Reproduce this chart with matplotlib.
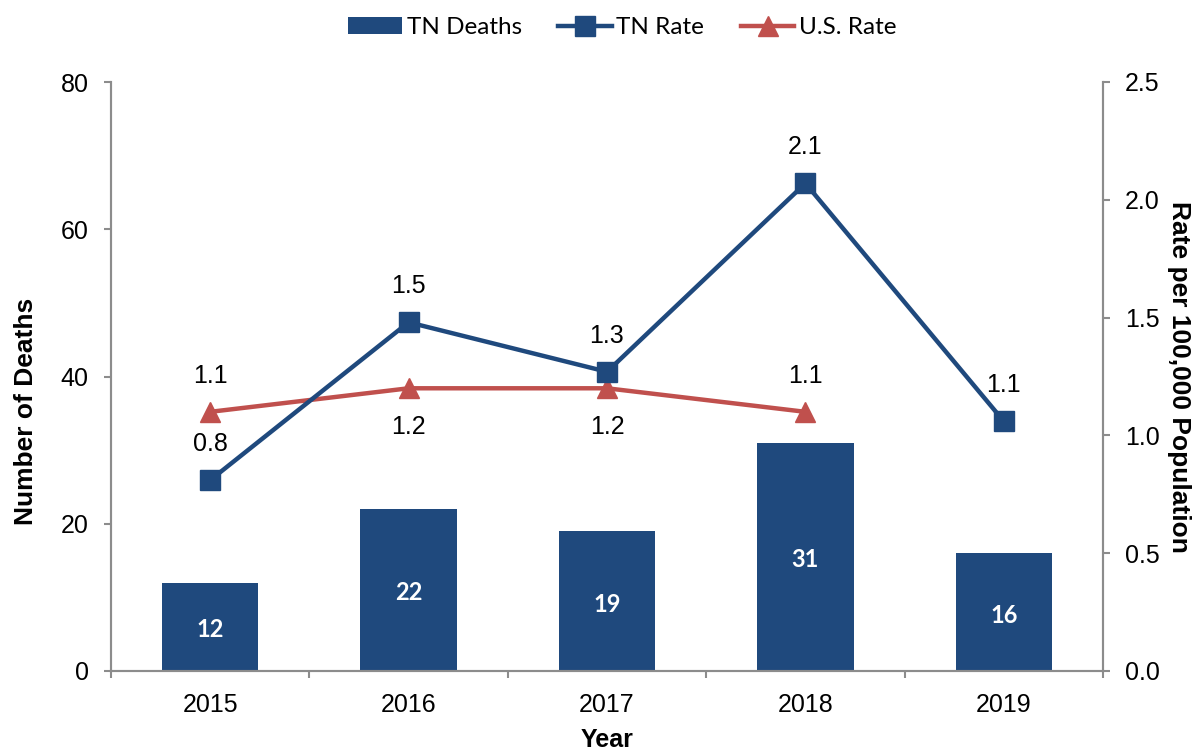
import numpy as np
import matplotlib
matplotlib.use('Agg')
import matplotlib.pyplot as plt

plt.rcParams.update({'font.family': 'Liberation Sans'})

years = ['2015', '2016', '2017', '2018', '2019']
tn_deaths = [12, 22, 19, 31, 16]
tn_rate = [0.81, 1.48, 1.27, 2.07, 1.06]
us_years = ['2015', '2016', '2017', '2018']
us_rate = [1.1, 1.2, 1.2, 1.1]
tn_rate_lbl = ['0.8', '1.5', '1.3', '2.1', '1.1']
us_rate_lbl = ['1.1', '1.2', '1.2', '1.1']
us_lbl_above = [True, False, False, True]

blue = '#1F497D'
red = '#C0504D'
gray = '#8C8C8C'

fig = plt.figure(figsize=(11.97, 7.51), dpi=100)
ax = fig.add_axes([111/1197, 80/751, 992/1197, 589/751])
ax2 = ax.twinx()

x = np.arange(len(years))
bars = ax.bar(x, tn_deaths, width=0.485, color=blue, label='TN Deaths', zorder=2)
for xi, v in zip(x, tn_deaths):
    ax.text(xi, v/2 - 0.4, str(v), ha='center', va='center', color='white',
            fontsize=17, fontweight='bold', family='Lato')

ax.set_xlim(-0.5, len(years) - 0.5)
ax.set_ylim(0, 80)
ax.set_yticks([0, 20, 40, 60, 80])
ax.set_xticks(np.arange(-0.5, len(years), 1.0))
ax.set_xticklabels([])
ax.set_xticks(x, minor=True)
ax.set_xticklabels(years, minor=True)
ax.tick_params(axis='x', which='minor', length=0, pad=16, labelsize=18)
ax.tick_params(axis='x', which='major', length=5, width=1.5, color=gray, direction='out')
ax.tick_params(axis='y', length=5, width=1.5, color=gray, direction='out', labelsize=18, pad=11)
ax.set_ylabel('Number of Deaths', fontsize=19, fontweight='bold')
ax.yaxis.set_label_coords(-0.074, 0.44)
ax.set_xlabel('Year', fontsize=18, fontweight='bold', labelpad=8)

xu = np.arange(len(us_years))
l1, = ax2.plot(x, tn_rate, '-s', color=blue, lw=3.2, ms=14, label='TN Rate', zorder=4)
l2, = ax2.plot(xu, us_rate, '-^', color=red, lw=3.2, ms=14, label='U.S. Rate', zorder=3)
ax2.set_ylim(0, 2.5)
ax2.set_yticks(np.arange(0, 2.51, 0.5))
ax2.set_yticklabels(['%.1f' % t for t in np.arange(0, 2.51, 0.5)])
ax2.tick_params(axis='y', length=5, width=1.5, color=gray, direction='out', labelsize=18, pad=11)
ax2.set_ylabel('Rate per 100,000 Population', fontsize=19, fontweight='bold',
               rotation=270, va='bottom', labelpad=5)

for xi, v, s in zip(x, tn_rate, tn_rate_lbl):
    ax2.annotate(s, (xi, v), xytext=(0, 26), textcoords='offset points',
                 ha='center', va='center', fontsize=18)
for xi, v, s, up in zip(xu, us_rate, us_rate_lbl, us_lbl_above):
    ax2.annotate(s, (xi, v), xytext=(0, 26 if up else -28), textcoords='offset points',
                 ha='center', va='center', fontsize=18)

for a in (ax, ax2):
    a.spines['top'].set_visible(False)
    for sp in ('left', 'right', 'bottom'):
        a.spines[sp].set_color(gray)
        a.spines[sp].set_linewidth(1.5)

fig.legend([bars, l1, l2], ['TN Deaths', 'TN Rate', 'U.S. Rate'],
           loc='upper center', bbox_to_anchor=(0.52, 1.006), ncol=3, frameon=False,
           prop={'family': 'Lato', 'size': 17.5}, handlelength=2.2, handletextpad=0.2,
           columnspacing=1.5)

plt.savefig('out.png', dpi=100)
